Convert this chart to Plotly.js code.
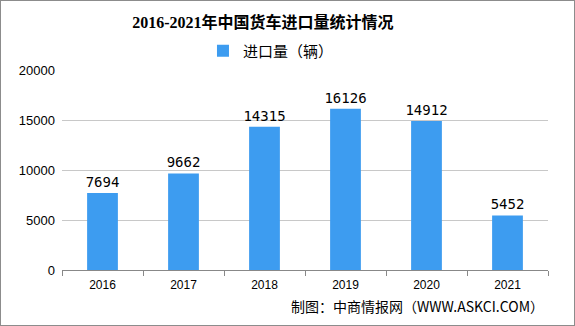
<!DOCTYPE html>
<html><head><meta charset="utf-8">
<script src="https://cdn.plot.ly/plotly-3.0.1.min.js"></script>
<style>html,body{margin:0;padding:0;background:#fff}#c{width:575px;height:326px;box-sizing:border-box;border:1px solid #8c8c8c}</style>
</head><body><div id="c"></div>
<script>
const years = ['2016','2017','2018','2019','2020','2021'];
const imports = [7694, 9662, 14315, 16126, 14912, 5452];
const seriesName = '进口量（辆）';
const titleText = '2016-2021年中国货车进口量统计情况';
const sourceText = '制图：中商情报网（WWW.ASKCI.COM）';

const data = [{
  type: 'bar', x: years, y: imports, name: seriesName,
  marker: {color: '#3d9cf0'},
  text: imports.map(String), textposition: 'outside', constraintext: 'none',
  textfont: {family: '"DejaVu Sans Mono", monospace', size: 14, color: '#000'},
  cliponaxis: false
}];
const layout = {
  width: 573, height: 324,
  margin: {l: 61, r: 26, t: 69, b: 55},
  paper_bgcolor: '#fff', plot_bgcolor: '#fff',
  title: {text: '<b>' + titleText + '</b>', x: 0.457, xanchor: 'center', y: 0.935, yanchor: 'middle',
    font: {family: '"Liberation Serif", "Noto Sans CJK SC", serif', size: 16, color: '#000'}},
  showlegend: true,
  legend: {orientation: 'h', x: 0.43, xanchor: 'center', y: 1.095, yanchor: 'middle',
    font: {family: '"Noto Sans CJK SC", sans-serif', size: 15, color: '#000'}, itemwidth: 30},
  bargap: 0.62,
  xaxis: {type: 'category', tickson: 'boundaries', ticks: 'outside', ticklen: 5, tickcolor: '#888',
    showline: true, linecolor: '#888', linewidth: 1, ticklabelstandoff: 4,
    tickfont: {family: '"Liberation Sans", Arial, sans-serif', size: 12, color: '#000'}, fixedrange: true},
  yaxis: {range: [0, 20000], tickvals: [0, 5000, 10000, 15000, 20000], ticktext: ['0','5000','10000','15000','20000'],
    showgrid: true, gridcolor: '#c8c8c8', gridwidth: 1, zeroline: false, ticks: '', ticklabelstandoff: 6,
    tickfont: {family: '"Liberation Sans", Arial, sans-serif', size: 13, color: '#000'}},
  annotations: [{text: sourceText, xref: 'paper', yref: 'paper', x: 0.995, y: -0.18, xanchor: 'right', yanchor: 'middle',
    showarrow: false, font: {family: '"Noto Sans CJK SC", sans-serif', size: 14, color: '#000'}}]
};
Plotly.newPlot('c', data, layout, {displayModeBar: false, staticPlot: true});
</script></body></html>
